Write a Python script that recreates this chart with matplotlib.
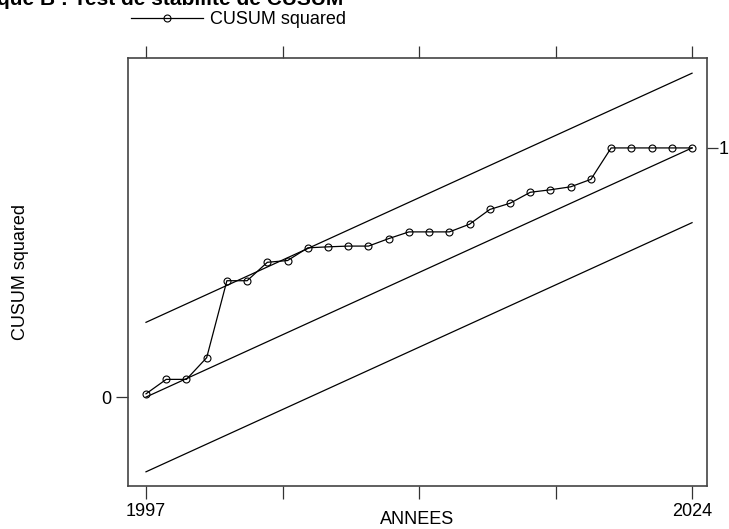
import matplotlib.pyplot as plt
import numpy as np

plt.rcParams['font.family'] = ['Liberation Sans', 'DejaVu Sans']

years = list(range(1997, 2025))
cusum_sq = [0.013, 0.071, 0.071, 0.158, 0.467, 0.467, 0.541, 0.548, 0.599, 0.603,
            0.606, 0.606, 0.636, 0.663, 0.663, 0.663, 0.694, 0.753, 0.778, 0.822,
            0.832, 0.844, 0.874, 1.0, 1.0, 1.0, 1.0, 1.0]

# expected path (start, end) and 5% band half-width
band_years = [1997, 2024]
expected = [0.0, 1.0]
band = 0.30

xtick_labels = ['1997', '', '', '', '2024']

fig = plt.figure(figsize=(7.29, 5.29), dpi=100)
ax = fig.add_axes([128 / 729, 43 / 529, 579 / 729, 428 / 529])

exp = np.array(expected)
ax.plot(band_years, exp + band, color='black', lw=0.9)
ax.plot(band_years, exp, color='black', lw=0.9)
ax.plot(band_years, exp - band, color='black', lw=0.9)
ax.plot(years, cusum_sq, color='black', lw=0.9, marker='o', markersize=5,
        markerfacecolor='none', markeredgewidth=0.8, label='CUSUM squared')

ax.set_xlim(1996.11, 2024.74)
ax.set_ylim(-0.357, 1.361)

ax.set_xticks(np.linspace(1997, 2024, 5))
ax.set_xticklabels(xtick_labels)
ax.set_yticks([0])
ax.set_yticklabels(['0'])
ax.tick_params(axis='both', direction='out', length=9, width=0.9, labelsize=13,
               color='#333333', pad=3)
ax.tick_params(axis='x', top=True)
for s in ax.spines.values():
    s.set_color('#444444')
    s.set_linewidth(1.2)

ax2 = ax.twinx()
ax2.set_ylim(ax.get_ylim())
ax2.set_yticks([1])
ax2.set_yticklabels(['1'])
ax2.tick_params(direction='out', length=8, width=0.9, labelsize=13, color='#333333', pad=0.5)
ax2.spines[:].set_visible(False)

ax.set_xlabel('ANNEES', fontsize=13)
ax.xaxis.set_label_coords(0.5, -25 / 428)
ax.set_ylabel('CUSUM squared', fontsize=13, labelpad=52)

ax.legend(loc='lower left', bbox_to_anchor=(131 / 729, 1 - 28 / 529), bbox_transform=fig.transFigure,
          frameon=False, fontsize=13, handlelength=4.0, handletextpad=0.4,
          borderaxespad=0, borderpad=0)

fig.text(-3 / 729, 1 - 5 / 529, 'que B : Test de stabilité de CUSUM', fontsize=15,
         fontweight='bold', ha='left', va='baseline')

fig.savefig('out.png', dpi=100)
